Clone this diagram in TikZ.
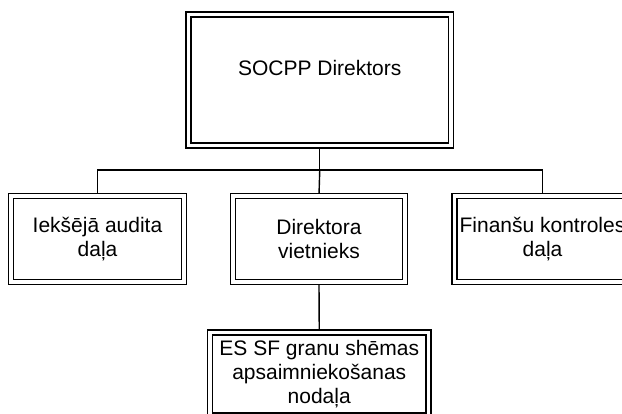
\documentclass[tikz,border=0pt]{standalone}
\usepackage{fontspec}
\setmainfont{Liberation Sans}
\usetikzlibrary{backgrounds}

\begin{document}
\begin{tikzpicture}[x=1pt, y=-1pt,
    unit/.style={draw, double, line width=1.3pt, double distance=3.7pt,
      align=center, inner sep=0pt, font=\fontsize{21}{24}\selectfont},
    link/.style={line width=1.4pt}]
  \useasboundingbox (0,0) rectangle (622,414);
  \node[unit, minimum width=262.5pt, minimum height=131pt] (dir) at (319.75,80) {SOCPP Direktors\\\mbox{}};
  \node[unit, minimum width=173.5pt, minimum height=86.5pt] (audit) at (97.5,239) {Iekšējā audita\\daļa};
  \node[unit, minimum width=171.5pt, minimum height=86.5pt] (vietn) at (319,239) {Direktora\\vietnieks};
  \node[unit, minimum width=176pt, minimum height=86.5pt] (fin) at (542.5,239) {Finanšu kontroles\\daļa};
  \node[unit, minimum width=218.5pt, minimum height=83pt] (esf) at (319.25,374) {ES SF granu shēmas\\apsaimniekošanas\\nodaļa};
  \coordinate (bus) at (319.75,170);
  \begin{scope}[on background layer]
    \draw[link] (dir.south) -- (bus);
    \draw[link] (audit.north) |- (bus) -| (fin.north);
    \draw[link] (bus) -- (vietn.north);
    \draw[link] (vietn.south) -- (esf.north);
  \end{scope}
\end{tikzpicture}
\end{document}
